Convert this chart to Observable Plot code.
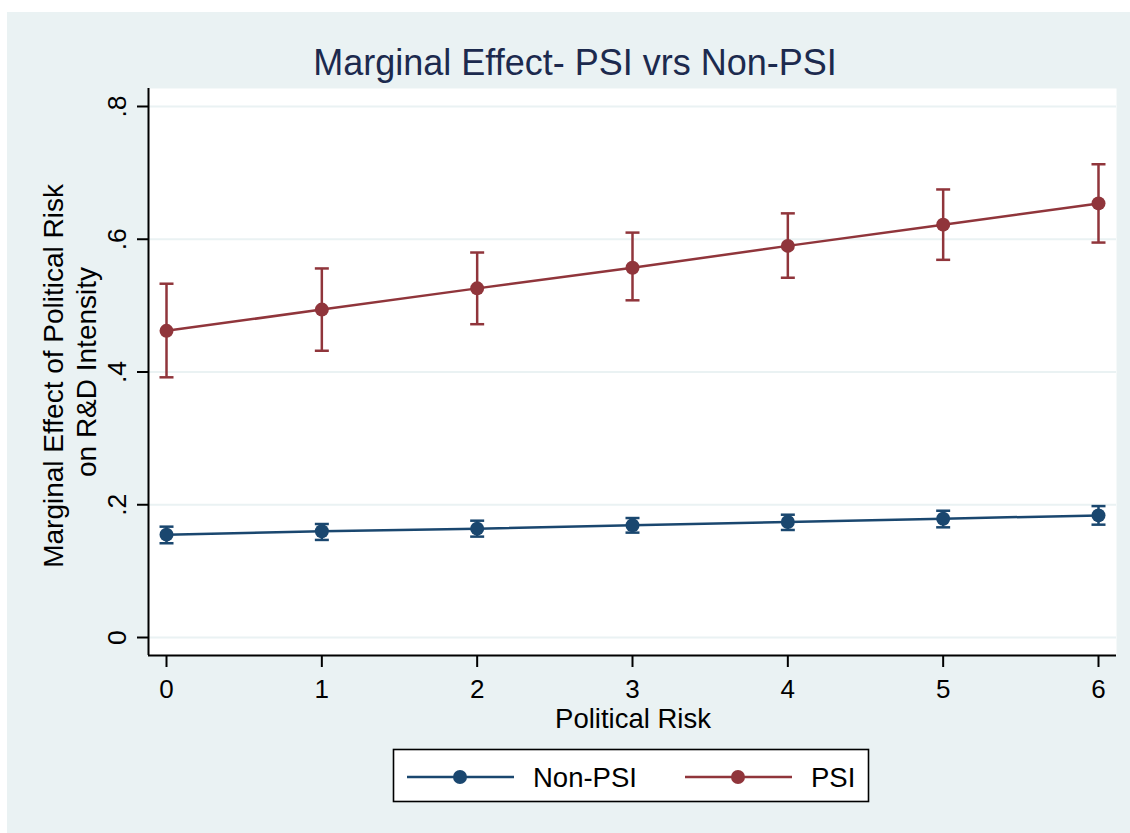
<!DOCTYPE html>
<html>
<head>
<meta charset="utf-8">
<script src="https://cdn.jsdelivr.net/npm/d3@7"></script>
<script src="https://cdn.jsdelivr.net/npm/@observablehq/plot@0.6"></script>
<style>
  html, body { margin: 0; padding: 0; background: #ffffff; }
  #wrap { position: relative; width: 1130px; height: 833px; overflow: hidden; font-family: "Liberation Sans", Arial, sans-serif; }
  #bg { position: absolute; left: 7px; top: 12px; width: 1123px; height: 821px; background: #EAF2F3; }
  #chart { position: absolute; left: 0; top: 0; }
  #overlay { position: absolute; left: 0; top: 0; }
</style>
</head>
<body>
<div id="wrap">
  <div id="bg"></div>
  <div id="chart"></div>
  <svg id="overlay" width="1130" height="833" font-family="Liberation Sans, Arial, sans-serif">
    <text x="575" y="75" text-anchor="middle" font-size="36" fill="#1C2A4E">Marginal Effect- PSI vrs Non-PSI</text>
    <text x="633" y="728" text-anchor="middle" font-size="27.5" fill="#000">Political Risk</text>
    <text transform="translate(63,372) rotate(-90)" text-anchor="middle" font-size="28" fill="#000">
      <tspan x="0" dy="0">Marginal Effect of Political Risk</tspan>
      <tspan x="0" dy="33">on R&amp;D Intensity</tspan>
    </text>
    <g id="legend"></g>
  </svg>
</div>
<script>
// ---- data ----
const risk = [0, 1, 2, 3, 4, 5, 6];
const psiMean = [0.462, 0.494, 0.526, 0.557, 0.590, 0.622, 0.654];
const psiLo   = [0.392, 0.432, 0.472, 0.508, 0.542, 0.569, 0.595];
const psiHi   = [0.533, 0.556, 0.580, 0.610, 0.639, 0.675, 0.713];
const nonMean = [0.155, 0.160, 0.164, 0.169, 0.174, 0.179, 0.184];
const nonLo   = [0.142, 0.147, 0.152, 0.158, 0.162, 0.166, 0.170];
const nonHi   = [0.167, 0.171, 0.176, 0.180, 0.185, 0.191, 0.198];
const seriesNames = ["Non-PSI", "PSI"];
const seriesColors = ["#1A476F", "#90353B"];
const xTicks = [0, 1, 2, 3, 4, 5, 6];
const yTicks = [0, 0.2, 0.4, 0.6, 0.8];
const yTickLabels = ["0", ".2", ".4", ".6", ".8"];

// ---- build table ----
const rows = [];
[[nonMean, nonLo, nonHi], [psiMean, psiLo, psiHi]].forEach(([m, lo, hi], s) => {
  risk.forEach((x, i) => rows.push({series: seriesNames[s], x, y: m[i], lo: lo[i], hi: hi[i]}));
});
const yTickRows = yTicks.map((v, i) => ({v, label: yTickLabels[i]}));

const capSymbol = { draw(ctx) { ctx.moveTo(-7, 0); ctx.lineTo(7, 0); } };
const FONT = "Liberation Sans, Arial, sans-serif";
const colorScale = {domain: seriesNames, range: seriesColors};

const plot = Plot.plot({
  width: 1130,
  height: 833,
  marginLeft: 148,
  marginRight: 14,
  marginTop: 88,
  marginBottom: 178,
  style: {background: "transparent", fontFamily: FONT, fontSize: "26px", color: "#000", overflow: "visible"},
  x: {domain: [-0.1159, 6.1159], label: null},
  y: {domain: [-0.0271, 0.8271], label: null},
  color: colorScale,
  marks: [
    Plot.frame({fill: "white", stroke: null}),
    Plot.gridY(yTicks, {stroke: "#EAF2F3", strokeOpacity: 1, strokeWidth: 2}),
    Plot.ruleX([-0.1159], {stroke: "#000", strokeWidth: 2}),
    Plot.ruleY([-0.0271], {stroke: "#000", strokeWidth: 2}),
    Plot.axisX({ticks: xTicks, tickSize: 12, tickPadding: 12, fontSize: 26, strokeWidth: 2, label: null, tickFormat: d => String(d)}),
    Plot.axisY({ticks: yTicks, tickSize: 11, strokeWidth: 2, label: null, tickFormat: () => ""}),
    Plot.text(yTickRows, {y: "v", text: "label", frameAnchor: "left", dx: -23, rotate: -90, textAnchor: "middle", lineAnchor: "bottom", fontSize: 26.5, fill: "#000"}),
    Plot.ruleX(rows, {x: "x", y1: "lo", y2: "hi", stroke: "series", strokeWidth: 2.5}),
    Plot.dot(rows, {x: "x", y: "lo", symbol: capSymbol, stroke: "series", fill: "none", strokeWidth: 2.5}),
    Plot.dot(rows, {x: "x", y: "hi", symbol: capSymbol, stroke: "series", fill: "none", strokeWidth: 2.5}),
    Plot.line(rows, {x: "x", y: "y", z: "series", stroke: "series", strokeWidth: 2.5}),
    Plot.dot(rows, {x: "x", y: "y", fill: "series", r: 7, stroke: null})
  ]
});
document.getElementById("chart").appendChild(plot);

// ---- legend ----
const ns = "http://www.w3.org/2000/svg";
const lg = document.getElementById("legend");
function el(tag, attrs, text) {
  const e = document.createElementNS(ns, tag);
  for (const k in attrs) e.setAttribute(k, attrs[k]);
  if (text) e.textContent = text;
  lg.appendChild(e);
  return e;
}
el("rect", {x: 393.5, y: 749.5, width: 475, height: 52, fill: "#fff", stroke: "#000", "stroke-width": 1.6});
const legendItems = [
  {name: seriesNames[0], color: seriesColors[0], x0: 407},
  {name: seriesNames[1], color: seriesColors[1], x0: 685}
];
legendItems.forEach(it => {
  el("line", {x1: it.x0, x2: it.x0 + 107, y1: 777, y2: 777, stroke: it.color, "stroke-width": 2.5});
  el("circle", {cx: it.x0 + 53, cy: 777, r: 7, fill: it.color});
  el("text", {x: it.x0 + 126, y: 787, "font-size": 27.5, fill: "#000"}, it.name);
});
</script>
</body>
</html>
